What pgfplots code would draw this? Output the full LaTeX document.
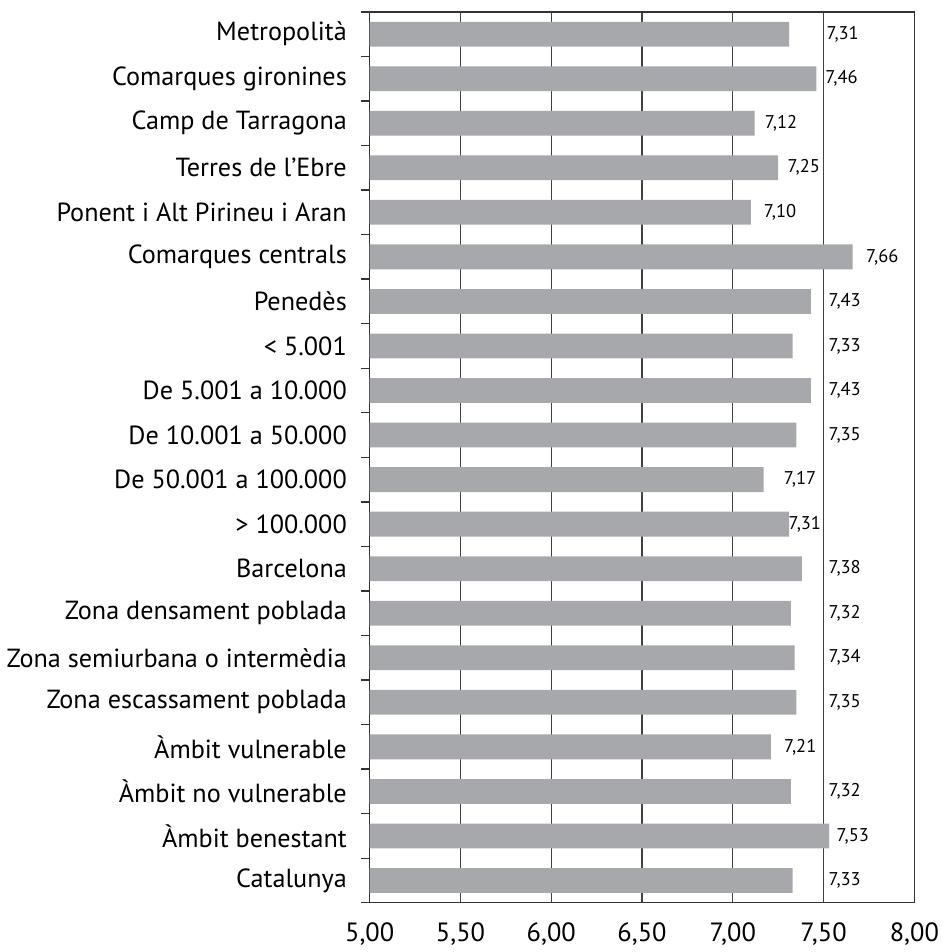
\documentclass[border=0pt]{standalone}
\usepackage{fontspec}
\setmainfont{PT Sans}
\usepackage{pgfplots}
\usepackage{pgfplotstable}
\pgfplotsset{compat=1.18}
\definecolor{barg}{RGB}{167,168,172}

% y = row (0 at top), val = value, lx = where its label starts
\pgfplotstableread{
y val lx
0 7.31 7.514
1 7.46 7.508
2 7.12 7.175
3 7.25 7.300
4 7.10 7.169
5 7.66 7.732
6 7.43 7.525
7 7.33 7.525
8 7.43 7.525
9 7.35 7.525
10 7.17 7.279
11 7.31 7.306
12 7.38 7.525
13 7.32 7.525
14 7.34 7.525
15 7.35 7.525
16 7.21 7.280
17 7.32 7.525
18 7.53 7.570
19 7.33 7.525
}\data

\begin{document}
\begin{tikzpicture}
\begin{axis}[
  scale only axis, width=274.5pt, height=449pt,
  xmin=5, xmax=8, ymin=-0.5, ymax=19.5, y dir=reverse,
  xtick={5,5.5,...,8},
  xmajorgrids, grid style={black!75, line width=0.7pt},
  ytick={0,...,19},
  yticklabels={Metropolità, Comarques gironines, Camp de Tarragona,
    Terres de l’Ebre, Ponent i Alt Pirineu i Aran, Comarques centrals,
    Penedès, < 5.001, De 5.001 a 10.000, De 10.001 a 50.000,
    De 50.001 a 100.000, > 100.000, Barcelona, Zona densament poblada,
    Zona semiurbana o intermèdia, Zona escassament poblada,
    Àmbit vulnerable, Àmbit no vulnerable, Àmbit benestant, Catalunya},
  minor ytick={-0.5,0.5,...,19.5},
  tick align=outside, ytick pos=left, xtick pos=bottom,
  major tick length=0pt, minor tick length=4.5pt,
  minor y tick style={black!80, line width=0.7pt},
  axis line style={black!80, line width=0.7pt},
  yticklabel style={font=\fontsize{13.2}{14}\selectfont, anchor=east, xshift=-8pt},
  xticklabel style={font=\fontsize{13.3}{14}\selectfont, yshift=-6.5pt},
  /pgf/number format/.cd, use comma, fixed, fixed zerofill, precision=2,
  assume math mode=true,
]
\addplot[xbar, bar width=12.5pt, fill=barg, draw=none] table[x=val, y=y] {\data};
\addplot[draw=none, mark=none, nodes near coords, point meta=explicit,
  every node near coord/.append style={anchor=west, inner sep=0pt,
    font=\fontsize{9.3}{10}\selectfont,
    /pgf/number format/.cd, use comma, fixed, fixed zerofill, precision=2,
    assume math mode=true}]
  table[x=lx, y=y, meta=val] {\data};
\end{axis}
\path ([yshift=6pt]current axis.north);
\end{tikzpicture}
\end{document}
